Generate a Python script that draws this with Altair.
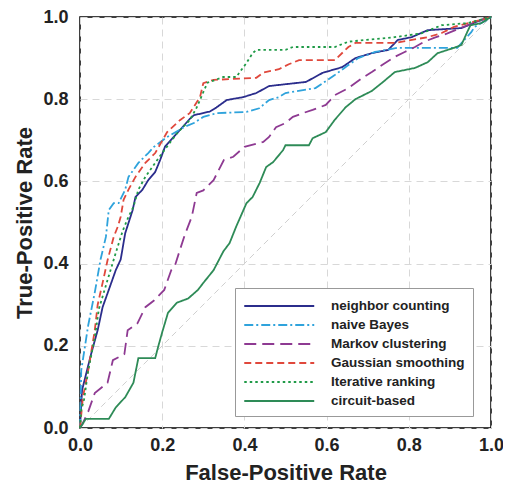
import altair as alt
import pandas as pd

series_names = ["neighbor counting", "naive Bayes", "Markov clustering",
                "Gaussian smoothing", "Iterative ranking", "circuit-based"]
series_colors = ["#2b2d8c", "#2fa3dc", "#8e3a92", "#e0483c", "#1f9a47", "#2e8b57"]
series_dashes = [[1, 0], [9, 3, 2, 3], [12, 6], [7, 4], [2.5, 3], [1, 0]]
series_widths = [1.8, 1.8, 1.8, 1.8, 2.6, 1.8]

nc_fpr = [0, 0.005, 0.027, 0.043, 0.055, 0.07, 0.087, 0.099, 0.11, 0.128, 0.135, 0.152, 0.166, 0.183, 0.195, 0.207, 0.236, 0.267, 0.277, 0.316, 0.332, 0.357, 0.397, 0.429, 0.46, 0.55, 0.59, 0.638, 0.67, 0.71, 0.75, 0.773, 0.807, 0.846, 0.928, 0.976, 1.0]
nc_tpr = [0, 0.092, 0.18, 0.238, 0.294, 0.336, 0.384, 0.41, 0.474, 0.53, 0.562, 0.58, 0.603, 0.623, 0.652, 0.685, 0.717, 0.752, 0.761, 0.77, 0.78, 0.798, 0.805, 0.815, 0.832, 0.842, 0.864, 0.878, 0.90, 0.912, 0.92, 0.944, 0.951, 0.968, 0.973, 0.993, 1.0]

nb_fpr = [0, 0.003, 0.02, 0.036, 0.05, 0.063, 0.07, 0.082, 0.094, 0.11, 0.118, 0.142, 0.166, 0.18, 0.212, 0.253, 0.277, 0.30, 0.332, 0.405, 0.436, 0.46, 0.484, 0.50, 0.573, 0.62, 0.653, 0.677, 0.718, 0.773, 0.918, 0.952, 0.96, 0.99, 1.0]
nb_tpr = [0, 0.14, 0.25, 0.33, 0.41, 0.465, 0.53, 0.547, 0.547, 0.58, 0.611, 0.645, 0.669, 0.684, 0.708, 0.732, 0.742, 0.757, 0.766, 0.769, 0.778, 0.798, 0.805, 0.815, 0.827, 0.859, 0.883, 0.90, 0.915, 0.925, 0.925, 0.963, 0.976, 0.993, 1.0]

mc_fpr = [0, 0.007, 0.02, 0.036, 0.067, 0.08, 0.108, 0.116, 0.14, 0.159, 0.18, 0.205, 0.222, 0.231, 0.243, 0.255, 0.272, 0.284, 0.30, 0.325, 0.35, 0.373, 0.40, 0.446, 0.46, 0.477, 0.50, 0.518, 0.542, 0.566, 0.598, 0.62, 0.653, 0.687, 0.71, 0.735, 0.766, 0.79, 0.815, 0.838, 0.863, 0.894, 0.93, 0.97, 1.0]
mc_tpr = [0, 0.012, 0.04, 0.085, 0.11, 0.165, 0.18, 0.238, 0.255, 0.294, 0.31, 0.336, 0.384, 0.395, 0.433, 0.47, 0.514, 0.572, 0.578, 0.603, 0.652, 0.66, 0.684, 0.696, 0.708, 0.732, 0.742, 0.757, 0.766, 0.774, 0.786, 0.81, 0.827, 0.852, 0.866, 0.883, 0.903, 0.915, 0.927, 0.94, 0.95, 0.96, 0.975, 0.99, 1.0]

gs_fpr = [0, 0.007, 0.02, 0.036, 0.043, 0.055, 0.067, 0.082, 0.092, 0.099, 0.106, 0.118, 0.135, 0.159, 0.183, 0.212, 0.243, 0.267, 0.292, 0.30, 0.325, 0.429, 0.446, 0.484, 0.508, 0.533, 0.62, 0.653, 0.67, 0.766, 0.846, 0.88, 0.91, 0.976, 1.0]
gs_tpr = [0, 0.075, 0.14, 0.238, 0.30, 0.353, 0.408, 0.465, 0.49, 0.514, 0.555, 0.58, 0.611, 0.645, 0.669, 0.72, 0.749, 0.766, 0.805, 0.839, 0.847, 0.852, 0.865, 0.873, 0.885, 0.895, 0.895, 0.927, 0.937, 0.937, 0.951, 0.961, 0.976, 0.993, 1.0]

ir_fpr = [0, 0.003, 0.01, 0.02, 0.036, 0.046, 0.067, 0.087, 0.104, 0.118, 0.13, 0.142, 0.159, 0.183, 0.2, 0.236, 0.267, 0.284, 0.31, 0.349, 0.38, 0.405, 0.42, 0.429, 0.50, 0.518, 0.62, 0.653, 0.766, 0.83, 0.88, 0.942, 1.0]
ir_tpr = [0, 0.044, 0.07, 0.14, 0.22, 0.29, 0.36, 0.426, 0.48, 0.514, 0.538, 0.58, 0.611, 0.645, 0.669, 0.717, 0.749, 0.78, 0.84, 0.854, 0.854, 0.888, 0.912, 0.92, 0.92, 0.927, 0.927, 0.94, 0.951, 0.96, 0.98, 0.985, 1.0]

cb_fpr = [0, 0.014, 0.07, 0.087, 0.11, 0.13, 0.142, 0.183, 0.19, 0.2, 0.214, 0.236, 0.263, 0.287, 0.30, 0.325, 0.349, 0.364, 0.38, 0.405, 0.42, 0.437, 0.453, 0.47, 0.494, 0.50, 0.557, 0.566, 0.598, 0.62, 0.646, 0.67, 0.71, 0.735, 0.766, 0.815, 0.846, 0.87, 0.91, 0.928, 0.942, 0.95, 0.976, 1.0]
cb_tpr = [0, 0.022, 0.022, 0.05, 0.075, 0.11, 0.17, 0.17, 0.197, 0.233, 0.28, 0.305, 0.315, 0.336, 0.353, 0.384, 0.43, 0.45, 0.49, 0.547, 0.562, 0.596, 0.635, 0.647, 0.676, 0.688, 0.688, 0.705, 0.72, 0.75, 0.78, 0.80, 0.82, 0.84, 0.866, 0.876, 0.89, 0.912, 0.925, 0.932, 0.963, 0.98, 0.985, 1.0]

diag_x = [0, 1]
diag_y = [0, 1]

tick_values = [0, 0.2, 0.4, 0.6, 0.8, 1.0]

curves = [(nc_fpr, nc_tpr), (nb_fpr, nb_tpr), (mc_fpr, mc_tpr),
          (gs_fpr, gs_tpr), (ir_fpr, ir_tpr), (cb_fpr, cb_tpr)]
rows = []
for name, (fx, ty) in zip(series_names, curves):
    for i, (a, b) in enumerate(zip(fx, ty)):
        rows.append({"method": name, "fpr": a, "tpr": b, "idx": i})
df = pd.DataFrame(rows)
df_diag = pd.DataFrame({"fpr": diag_x, "tpr": diag_y})

FONT = "Liberation Sans"

x_enc = alt.X("fpr:Q", scale=alt.Scale(domain=[0, 1], nice=False),
              axis=alt.Axis(values=tick_values, format=".1f", title="False-Positive Rate",
                            labelFontSize=18, labelFontWeight="bold", labelFont=FONT,
                            titleFontSize=22, titleFontWeight="bold", titleFont=FONT,
                            labelColor="#222", titleColor="#222", labelFlush=False,
                            ticks=False, domain=False, grid=True, gridDash=[7, 5],
                            gridColor="#d8d8d8", labelPadding=8, titlePadding=8))
y_enc = alt.Y("tpr:Q", scale=alt.Scale(domain=[0, 1], nice=False),
              axis=alt.Axis(values=tick_values, format=".1f", title="True-Positive Rate",
                            labelFontSize=18, labelFontWeight="bold", labelFont=FONT,
                            titleFontSize=22, titleFontWeight="bold", titleFont=FONT,
                            labelColor="#222", titleColor="#222", labelFlush=False,
                            ticks=False, domain=False, grid=True, gridDash=[7, 5],
                            gridColor="#d8d8d8", labelPadding=12, titlePadding=6))

diag = alt.Chart(df_diag).mark_line(color="#d0d0d0", strokeDash=[6, 4], strokeWidth=1).encode(
    x=x_enc, y=y_enc)

# custom stroke symbol: unit r = sqrt(size)/2, path spans -1..7 -> 8r long
legend = alt.Legend(orient="none", legendX=155, legendY=271, title=None,
                    symbolType="M-1,0L7,0", symbolSize=306, symbolStrokeWidth=2,
                    symbolFillColor="transparent",
                    labelFont=FONT, labelFontSize=13.5, labelFontWeight="bold",
                    labelColor="#222", strokeColor="#999", fillColor="white",
                    padding=8, labelOffset=68, rowPadding=2)

lines = alt.Chart(df).mark_line().encode(
    x=alt.X("fpr:Q"), y=alt.Y("tpr:Q"),
    color=alt.Color("method:N", scale=alt.Scale(domain=series_names, range=series_colors),
                    legend=legend),
    strokeDash=alt.StrokeDash("method:N", scale=alt.Scale(domain=series_names, range=series_dashes),
                              legend=legend),
    strokeWidth=alt.StrokeWidth("method:N", scale=alt.Scale(domain=series_names, range=series_widths),
                                legend=None),
    order="idx:Q",
)

chart = alt.layer(diag, lines).properties(
    width=411, height=411,
    autosize=alt.AutoSizeParams(type="none"),
    padding={"left": 72, "top": 9, "right": 12, "bottom": 62},
).configure_view(stroke="black", strokeWidth=1.5)

chart.save("out.html", embed_options={"renderer": "svg", "actions": False})
